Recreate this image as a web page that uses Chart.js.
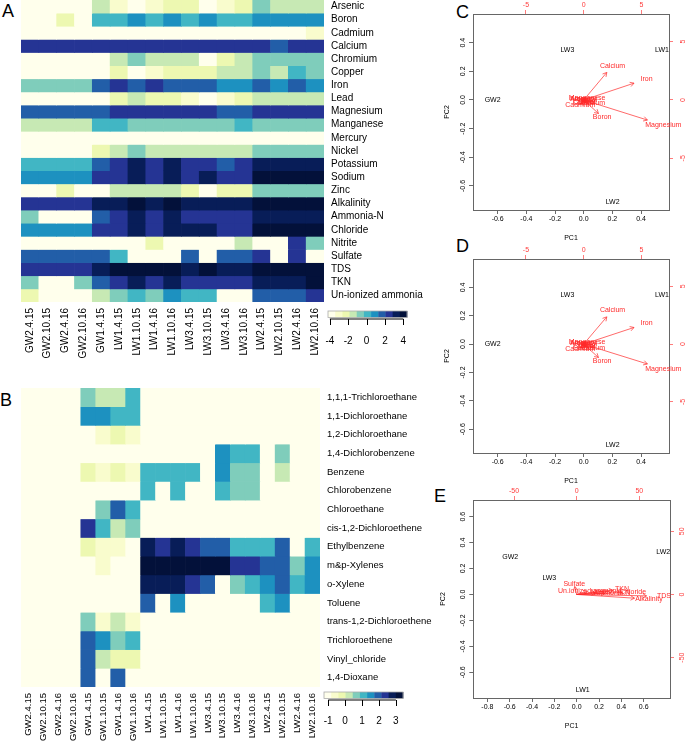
<!DOCTYPE html>
<html>
<head>
<meta charset="utf-8">
<script src="https://cdn.jsdelivr.net/npm/chart.js@4.4.1/dist/chart.umd.min.js"></script>
<style>
  body { margin: 0; width: 685px; height: 742px; position: relative; overflow: hidden; background: #fff;
         font-family: 'Liberation Sans', Arial, Helvetica, sans-serif; }
  canvas { position: absolute; }
  .tag { position: absolute; font-size: 18px; line-height: 18px; color: #000; }
</style>
</head>
<body>
<div class="tag" style="left:2px;top:2px">A</div>
<div class="tag" style="left:0px;top:391px">B</div>
<div class="tag" style="left:456px;top:3px">C</div>
<div class="tag" style="left:456px;top:237px">D</div>
<div class="tag" style="left:434px;top:487px">E</div>

<canvas id="heatA" width="445" height="370" style="left:0;top:0"></canvas>
<canvas id="heatB" width="445" height="362" style="left:0;top:380px"></canvas>
<canvas id="pcaC" width="245" height="245" style="left:440px;top:0"></canvas>
<canvas id="pcaD" width="245" height="245" style="left:440px;top:245px"></canvas>
<canvas id="pcaE" width="251" height="246" style="left:434px;top:486px"></canvas>

<script>
// ---- panel A : water quality z-scores ----
const colsA = ['GW2.4.15', 'GW2.10.15', 'GW2.4.16', 'GW2.10.16', 'GW1.4.15', 'LW1.4.15', 'LW1.10.15', 'LW1.4.16',
  'LW1.10.16', 'LW3.4.15', 'LW3.10.15', 'LW3.4.16', 'LW3.10.16', 'LW2.4.15', 'LW2.10.15', 'LW2.4.16', 'LW2.10.16'];
const rowsA = ['Arsenic', 'Boron', 'Cadmium', 'Calcium', 'Chromium', 'Copper', 'Iron', 'Lead', 'Magnesium',
  'Manganese', 'Mercury', 'Nickel', 'Potassium', 'Sodium', 'Zinc', 'Alkalinity', 'Ammonia-N', 'Chloride',
  'Nitrite', 'Sulfate', 'TDS', 'TKN', 'Un-ionized ammonia'];
const valsA = [
  [-3.8, -3.8, -3.8, -3.8, -1.5, -3, -3.8, -3, -2.2, -2.2, -3.8, -3, -2.2, -0.7, -1.5, -1.5, -1.5],
  [-3.8, -3.8, -2.2, -3.8, 0.1, 0.1, 0.9, 0.1, 0.9, 0.1, 0.9, 0.1, 0.1, 0.9, 0.9, 0.9, 0.9],
  [-3.8, -3.8, -3.8, -3.8, -3.8, -3.8, -3.8, -3.8, -3.8, -3.8, -3.8, -3.8, -3.8, -3.8, -3.8, -3.8, -3],
  [2.4, 2.4, 2.4, 2.4, 2.4, 2.4, 2.4, 2.4, 2.4, 2.4, 2.4, 2.4, 2.4, 2.4, 1.6, 2.4, 2.4],
  [-3.8, -3.8, -3.8, -3.8, -3.8, -1.5, -0.7, -1.5, -1.5, -1.5, -3.8, -2.2, -1.5, -0.7, -0.7, -0.7, -0.7],
  [-3.8, -3.8, -3.8, -3.8, -3.8, -2.2, -3.8, -3, -2.2, -2.2, -2.2, -1.5, -1.5, -0.7, -1.5, 0.1, -0.7],
  [-0.7, -0.7, -0.7, -0.7, 1.6, 2.4, 1.6, 2.4, 1.6, 1.6, 1.6, 0.9, 0.9, 1.6, 0.9, 1.6, 0.9],
  [-3.8, -3.8, -3.8, -3.8, -3.8, -2.2, -1.5, -2.2, -2.2, -3, -3.8, -3, -2.2, -1.5, -1.5, -1.5, -1.5],
  [1.6, 1.6, 1.6, 1.6, 1.6, 2.4, 2.4, 2.4, 2.4, 2.4, 2.4, 1.6, 1.6, 2.4, 2.4, 2.4, 2.4],
  [-1.5, -1.5, -1.5, -1.5, 0.1, 0.1, -0.7, -0.7, -0.7, -0.7, -0.7, -0.7, 0.1, -0.7, -0.7, -0.7, -0.7],
  [-3.8, -3.8, -3.8, -3.8, -3.8, -3.8, -3.8, -3.8, -3.8, -3.8, -3.8, -3.8, -3.8, -3.8, -3.8, -3.8, -3.8],
  [-3.8, -3.8, -3.8, -3.8, -2.2, -1.5, -0.7, -1.5, -1.5, -1.5, -1.5, -1.5, -1.5, -0.7, -0.7, -0.7, -0.7],
  [0.1, 0.1, 0.1, 0.1, 1.6, 2.4, 3.2, 2.4, 3.2, 2.4, 2.4, 1.6, 2.4, 3.2, 3.2, 3.2, 3.2],
  [0.9, 0.9, 0.9, 0.9, 2.4, 2.4, 3.2, 2.4, 3.2, 2.4, 3.2, 2.4, 2.4, 4, 4, 4, 4],
  [-3.8, -3.8, -2.2, -3.8, -3.8, -1.5, -1.5, -1.5, -1.5, -2.2, -3.8, -2.2, -2.2, -0.7, -0.7, -0.7, -0.7],
  [2.4, 2.4, 2.4, 2.4, 3.2, 3.2, 4, 3.2, 4, 3.2, 3.2, 3.2, 3.2, 4, 4, 4, 4],
  [-0.7, -3.8, -3.8, -3.8, 1.6, 2.4, 3.2, 2.4, 3.2, 2.4, 2.4, 2.4, 2.4, 3.2, 3.2, 3.2, 3.2],
  [0.9, 0.9, 0.9, 0.9, 2.4, 2.4, 3.2, 2.4, 3.2, 3.2, 3.2, 2.4, 2.4, 4, 4, 4, 4],
  [-3.8, -3.8, -3.8, -3.8, -3.8, -3.8, -3.8, -2.2, -3.8, -3.8, -3.8, -3.8, -1.5, -3.8, -3.8, 2.4, -0.7],
  [1.6, 1.6, 1.6, 1.6, 1.6, 0.1, -3.8, -3.8, -3.8, 1.6, -3.8, 1.6, 1.6, 2.4, -3.8, 2.4, -3.8],
  [2.4, 2.4, 2.4, 2.4, 3.2, 4, 4, 4, 4, 3.2, 4, 3.2, 3.2, 4, 4, 4, 4],
  [-0.7, -3.8, -3.8, -0.7, 1.6, 2.4, 3.2, 2.4, 3.2, 2.4, 2.4, 2.4, 2.4, 3.2, 3.2, 3.2, 4],
  [-2.2, -3.8, -3.8, -3.8, -1.5, -0.7, 0.1, -0.7, 0.9, 0.1, 0.1, -3.8, -3.8, 1.6, 1.6, 1.6, 2.4]
];
const keyTicksA = [-4, -2, 0, 2, 4];
const keyRangeA = [-4.2, 4.4];

// ---- panel B : VOC z-scores ----
const colsB = ['GW2.4.15', 'GW2.10.15', 'GW2.4.16', 'GW2.10.16', 'GW1.4.15', 'GW1.10.15', 'GW1.4.16', 'GW1.10.16',
  'LW1.4.15', 'LW1.10.15', 'LW1.4.16', 'LW1.10.16', 'LW3.4.15', 'LW3.10.15', 'LW3.4.16', 'LW3.10.16',
  'LW2.4.15', 'LW2.10.15', 'LW2.4.16', 'LW2.10.16'];
const rowsB = ['1,1,1-Trichloroethane', '1,1-Dichloroethane', '1,2-Dichloroethane', '1,4-Dichlorobenzene',
  'Benzene', 'Chlorobenzene', 'Chloroethane', 'cis-1,2-Dichloroethene', 'Ethylbenzene', 'm&p-Xylenes',
  'o-Xylene', 'Toluene', 'trans-1,2-Dichloroethene', 'Trichloroethene', 'Vinyl_chloride', '1,4-Dioxane'];
const valsB = [
  [-1, -1, -1, -1, 0.65, 0.25, 0.25, 1.1, -1, -1, -1, -1, -1, -1, -1, -1, -1, -1, -1, -1],
  [-1, -1, -1, -1, 1.5, 1.5, 1.1, 1.1, -1, -1, -1, -1, -1, -1, -1, -1, -1, -1, -1, -1],
  [-1, -1, -1, -1, -1, -0.6, -0.2, -0.6, -1, -1, -1, -1, -1, -1, -1, -1, -1, -1, -1, -1],
  [-1, -1, -1, -1, -1, -1, -1, -1, -1, -1, -1, -1, -1, 1.5, 1.1, 1.1, -1, 0.65, -1, -1],
  [-1, -1, -1, -1, -0.2, -0.6, -0.2, -0.6, 1.1, 1.1, 1.1, 1.1, -1, 1.5, 0.65, 0.65, -1, 0.25, -1, -1],
  [-1, -1, -1, -1, -1, -1, -1, -1, 1.1, -1, 1.1, -1, -1, 1.1, 0.65, 0.65, -1, -1, -1, -1],
  [-1, -1, -1, -1, -1, 0.65, 1.95, 1.1, -1, -1, -1, -1, -1, -1, -1, -1, -1, -1, -1, -1],
  [-1, -1, -1, -1, 2.35, 1.1, 0.25, 0.65, -1, -1, -1, -1, -1, -1, -1, -1, -1, -1, -1, -1],
  [-1, -1, -1, -1, -0.2, -0.6, -0.6, -1, 2.8, 2.35, 2.8, 2.35, 1.95, 1.95, 1.1, 1.1, 1.1, 1.95, -1, 1.1],
  [-1, -1, -1, -1, -1, -0.6, -1, -1, 3.2, 3.2, 3.2, 3.2, 3.2, 3.2, 2.35, 2.35, 1.95, 1.95, 0.65, 1.5],
  [-1, -1, -1, -1, -1, -1, -1, -1, 2.8, 2.8, 2.8, 2.35, 1.95, -1, 0.65, 1.1, 1.5, 1.95, 1.1, 1.5],
  [-1, -1, -1, -1, -1, -1, -1, -1, 1.95, -1, 1.5, -1, -1, -1, -1, -1, 1.1, 1.5, -1, -1],
  [-1, -1, -1, -1, 0.65, -0.6, 0.25, -0.6, -1, -1, -1, -1, -1, -1, -1, -1, -1, -1, -1, -1],
  [-1, -1, -1, -1, 1.95, 1.5, 0.65, 1.1, -1, -1, -1, -1, -1, -1, -1, -1, -1, -1, -1, -1],
  [-1, -1, -1, -1, 1.95, 0.25, -0.2, -0.2, -1, -1, -1, -1, -1, -1, -1, -1, -1, -1, -1, -1],
  [-1, -1, -1, -1, 1.95, -1, 1.95, -1, -1, -1, -1, -1, -1, -1, -1, -1, -1, -1, -1, -1]
];
const keyTicksB = [-1, 0, 1, 2, 3];
const keyRangeB = [-1.25, 3.42];

// ---- panels C / D : metals PCA biplot ----
const samplesC = ['GW2', 'LW3', 'LW1', 'LW2'];
const pc1C = [-0.635, -0.114, 0.546, 0.202];
const pc2C = [0.0, 0.347, 0.347, -0.714];
const varsC = ['Arsenic', 'Boron', 'Cadmium', 'Calcium', 'Chromium', 'Copper', 'Iron', 'Lead', 'Magnesium',
  'Manganese', 'Mercury', 'Nickel', 'Zinc'];
const loadXC = [-0.2, 1.6, -0.3, 2.5, 0.45, 0.1, 5.45, 0.2, 6.9, 0.3, 0.0, 0.35, 0.25];
const loadYC = [0.05, -1.45, -0.45, 2.95, -0.3, -0.15, 1.8, -0.3, -2.15, 0.2, 0.1, 0.0, -0.15];
const ticksPC1C = [-0.6, -0.4, -0.2, 0.0, 0.2, 0.4];
const ticksPC2C = [-0.6, -0.4, -0.2, 0.0, 0.2, 0.4];
const ticksLoadC = [-5, 0, 5];

// ---- panel E : general chemistry PCA biplot ----
const samplesE = ['GW2', 'LW3', 'LW2', 'LW1'];
const pc1E = [-0.595, -0.245, 0.776, 0.054];
const pc2E = [0.286, 0.128, 0.324, -0.739];
const varsE = ['Alkalinity', 'Ammonia.N', 'Chloride', 'Nitrite', 'Sulfate', 'TDS', 'TKN', 'Un.ionized.ammonia'];
const loadXE = [57.7, 28.2, 45.0, 18.6, -1.9, 69.7, 36.2, 10.6];
const loadYE = [-3.7, 1.0, 1.8, 1.8, 7.9, -1.4, 4.2, 2.9];
const ticksPC1E = [-0.8, -0.6, -0.4, -0.2, 0.0, 0.2, 0.4, 0.6];
const ticksPC2E = [-0.6, -0.4, -0.2, 0.0, 0.2, 0.4, 0.6];
const ticksLoadE = [-50, 0, 50];

const PAL = ['#FFFFEC', '#F9FCCD', '#EDF8B1', '#C7E9B4', '#7FCDBB', '#41B6C4', '#1D91C0', '#225EA8',
  '#253494', '#081D58', '#03113A'];
const FONT = "'Liberation Sans', Arial, Helvetica, sans-serif";
Chart.defaults.font.family = FONT;
Chart.defaults.color = '#000';

function binColor(v, range) {
  let k = Math.floor((v - range[0]) / (range[1] - range[0]) * PAL.length);
  return PAL[Math.max(0, Math.min(PAL.length - 1, k))];
}

// fixed axis size, no extra label padding pushed onto the chart area
function fixSize(vert, size) {
  return s => {
    if (vert) s.width = size; else s.height = size;
    s.paddingTop = s.paddingBottom = s.paddingLeft = s.paddingRight = 0;
  };
}

// colour key under the heatmap
const keyPlugin = {
  id: 'key',
  afterDraw(chart, args, o) {
    const ctx = chart.ctx;
    const w = (o.x1 - o.x0) / PAL.length;
    ctx.save();
    PAL.forEach((c, i) => { ctx.fillStyle = c; ctx.fillRect(o.x0 + i * w, o.y0, w + 0.4, o.h); });
    ctx.strokeStyle = '#aaa'; ctx.lineWidth = 0.8;
    ctx.strokeRect(o.x0, o.y0, o.x1 - o.x0, o.h);
    const px = v => o.x0 + (v - o.range[0]) / (o.range[1] - o.range[0]) * (o.x1 - o.x0);
    const ty = o.y0 + o.h + 1.5;
    ctx.strokeStyle = '#000'; ctx.lineWidth = 1;
    ctx.beginPath();
    ctx.moveTo(px(o.ticks[0]), ty); ctx.lineTo(px(o.ticks[o.ticks.length - 1]), ty);
    o.ticks.forEach(t => { ctx.moveTo(Math.round(px(t)) + 0.5, ty); ctx.lineTo(Math.round(px(t)) + 0.5, ty + 6); });
    ctx.stroke();
    ctx.fillStyle = '#000'; ctx.font = o.fontSize + 'px ' + FONT;
    ctx.textAlign = 'center'; ctx.textBaseline = 'middle';
    o.ticks.forEach(t => ctx.fillText(String(t), px(t), o.labelY));
    ctx.restore();
  }
};

function heatmap(id, cols, rows, vals, range, geo, key) {
  const n = rows.length;
  new Chart(document.getElementById(id), {
    type: 'bar',
    data: {
      labels: cols,
      datasets: rows.map((name, r) => ({
        label: name,
        data: vals[r].map(() => [n - 1 - r, n - r]),
        backgroundColor: vals[r].map(v => binColor(v, range)),
        borderWidth: 0, grouped: false, barPercentage: 1, categoryPercentage: 1
      }))
    },
    options: {
      responsive: false, animation: false, events: [],
      layout: { padding: { left: geo.left, top: geo.top, right: 0, bottom: 0 } },
      plugins: { legend: { display: false }, tooltip: { enabled: false }, key },
      scales: {
        x: {
          ticks: { autoSkip: false, minRotation: 90, maxRotation: 90, padding: geo.xPad, font: { size: geo.font } },
          grid: { display: false, drawTicks: false }, border: { display: false },
          afterFit: fixSize(false, geo.xH)
        },
        y: { display: false, min: 0, max: n },
        y2: {
          type: 'category', position: 'right', labels: rows, offset: true,
          ticks: { autoSkip: false, padding: geo.yPad, font: { size: geo.font } },
          grid: { display: false, drawTicks: false }, border: { display: false },
          afterFit: fixSize(true, geo.yW)
        }
      }
    },
    plugins: [keyPlugin]
  });
}

heatmap('heatA', colsA, rowsA, valsA, keyRangeA,
  { left: 21, top: 0, xH: 68, yW: 121, xPad: 6, yPad: 7, font: 10 },
  { x0: 328, x1: 407, y0: 311, h: 6.5, range: keyRangeA, ticks: keyTicksA, labelY: 341, fontSize: 10 });
heatmap('heatB', colsB, rowsB, valsB, keyRangeB,
  { left: 21, top: 8, xH: 55, yW: 125, xPad: 6, yPad: 7, font: 9.5 },
  { x0: 324, x1: 403, y0: 312, h: 6.5, range: keyRangeB, ticks: keyTicksB, labelY: 341, fontSize: 10 });

// sample names, arrow heads and loading names for the biplots
const biplotPlugin = {
  id: 'bip',
  afterDatasetsDraw(chart, args, o) {
    const ctx = chart.ctx;
    const tx = chart.scales.x2, ty = chart.scales.y2;
    ctx.save();
    ctx.font = '7px ' + FONT;
    ctx.textAlign = 'center'; ctx.textBaseline = 'middle';
    ctx.strokeStyle = '#ff2a2a'; ctx.fillStyle = '#ff2a2a'; ctx.lineWidth = 0.7;
    o.vars.forEach((name, i) => {
      const m = chart.getDatasetMeta(i + 1);
      const a = m.data[0], b = m.data[1];
      const ang = Math.atan2(b.y - a.y, b.x - a.x), L = 4.5;
      ctx.beginPath();
      ctx.moveTo(b.x - L * Math.cos(ang - Math.PI / 6), b.y - L * Math.sin(ang - Math.PI / 6));
      ctx.lineTo(b.x, b.y);
      ctx.lineTo(b.x - L * Math.cos(ang + Math.PI / 6), b.y - L * Math.sin(ang + Math.PI / 6));
      ctx.stroke();
      ctx.fillText(name, tx.getPixelForValue(o.lx[i]), ty.getPixelForValue(o.ly[i]));
    });
    ctx.fillStyle = '#000';
    chart.getDatasetMeta(0).data.forEach((pt, i) => ctx.fillText(o.samples[i], pt.x, pt.y));
    ctx.restore();
  }
};

function axis(pos, range, ticks, dec, size, red, lpad, title, tpad) {
  const vert = pos === 'left' || pos === 'right';
  return {
    type: 'linear', position: pos, min: range[0], max: range[1],
    afterBuildTicks: s => { s.ticks = ticks.map(v => ({ value: v })); },
    ticks: {
      color: red ? '#ff3b3b' : '#000', font: { size: 7 }, padding: lpad,
      minRotation: vert ? 90 : 0, maxRotation: vert ? 90 : 0, crossAlign: vert ? 'center' : 'near',
      callback: v => v.toFixed(dec)
    },
    grid: { drawOnChartArea: false, tickLength: 4, lineWidth: 0.8, color: red ? '#ff5a5a' : '#444' },
    border: { display: true, color: '#666', width: 1 },
    title: title ? { display: true, text: title, font: { size: 7 }, padding: tpad } : { display: false },
    afterFit: fixSize(vert, size)
  };
}

function biplot(id, p) {
  new Chart(document.getElementById(id), {
    type: 'scatter',
    data: {
      datasets: [
        { data: p.pc1.map((x, i) => ({ x, y: p.pc2[i] })), pointRadius: 0, xAxisID: 'x', yAxisID: 'y' },
        ...p.vars.map((v, i) => ({
          label: v, showLine: true, borderColor: '#ff2a2a', borderWidth: 0.7, pointRadius: 0,
          xAxisID: 'x2', yAxisID: 'y2',
          data: [{ x: 0, y: 0 }, { x: 0.8 * p.lx[i], y: 0.8 * p.ly[i] }]
        }))
      ]
    },
    options: {
      responsive: false, animation: false, events: [],
      layout: { padding: 0 },
      plugins: { legend: { display: false }, tooltip: { enabled: false },
        bip: { samples: p.samples, vars: p.vars, lx: p.lx, ly: p.ly } },
      scales: {
        x: axis('bottom', p.xr, p.xt, 1, p.bottom, false, 1, 'PC1', { top: 2, bottom: p.titlePad }),
        y: axis('left', p.yr, p.yt, 1, p.left, false, 0, 'PC2', { top: p.ytPad, bottom: 0 }),
        x2: axis('top', p.x2r, p.lt, 0, p.top, true, 1),
        y2: axis('right', p.y2r, p.lt, 0, p.right, true, p.rPad)
      }
    },
    plugins: [biplotPlugin]
  });
}

const metals = { samples: samplesC, pc1: pc1C, pc2: pc2C, vars: varsC, lx: loadXC, ly: loadYC,
  xt: ticksPC1C, yt: ticksPC2C, lt: ticksLoadC,
  xr: [-0.772, 0.595], yr: [-0.768, 0.60], x2r: [-9.59, 7.39], y2r: [-9.43, 7.37],
  left: 33, right: 16, top: 14, ytPad: 3, rPad: 7 };
biplot('pcaC', Object.assign({}, metals, { bottom: 35, titlePad: 3 }));
biplot('pcaD', Object.assign({}, metals, { bottom: 37, titlePad: 5 }));
biplot('pcaE', { samples: samplesE, pc1: pc1E, pc2: pc2E, vars: varsE, lx: loadXE, ly: loadYE,
  xt: ticksPC1E, yt: ticksPC2E, lt: ticksLoadE,
  xr: [-0.926, 0.836], yr: [-0.798, 0.728], x2r: [-82.5, 74.5], y2r: [-82, 74.8],
  left: 39.3, right: 15, top: 14, bottom: 34, titlePad: 2, ytPad: 4.8, rPad: 2.7 });
</script>
</body>
</html>
